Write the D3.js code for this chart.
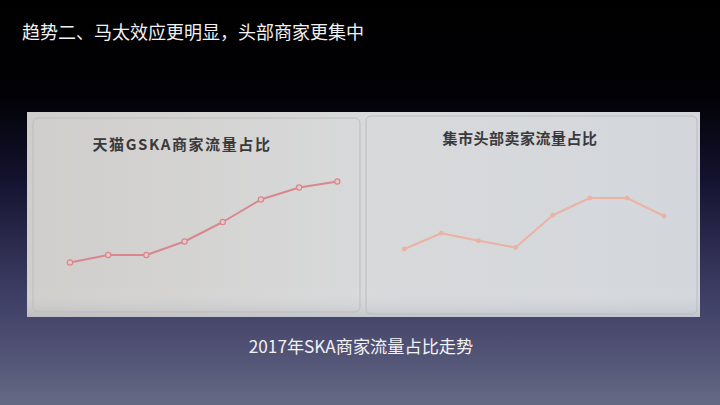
<!DOCTYPE html>
<html><head><meta charset="utf-8">
<script src="https://cdn.jsdelivr.net/npm/d3@7"></script>
<style>html,body{margin:0;padding:0;background:#000;}svg{display:block;}</style>
</head><body>
<script>
const pageTitle = "趋势二、马太效应更明显，头部商家更集中";
const caption = "2017年SKA商家流量占比走势";
const panelTitles = ["天猫GSKA商家流量占比", "集市头部卖家流量占比"];
const categories = ["1月","2月","3月","4月","5月","6月","7月","8月"];
const tmallShare = [2.5, 3.0, 3.0, 3.9, 5.2, 6.7, 7.5, 7.9];
const jishiShare = [3.4, 4.45, 3.95, 3.5, 5.65, 6.8, 6.8, 5.6];

const W = 720, H = 405;
const svg = d3.select("body").append("svg").attr("width", W).attr("height", H);
const defs = svg.append("defs");
const bg = defs.append("linearGradient").attr("id","bg").attr("x1",0).attr("y1",0).attr("x2",0).attr("y2",1);
[[0,"#000000"],[0.24,"#020206"],[0.45,"#141330"],[0.72,"#3d3d64"],[0.85,"#4e4f72"],[1,"#646a84"]]
  .forEach(([o,c])=>bg.append("stop").attr("offset",o).attr("stop-color",c));
svg.append("rect").attr("width",W).attr("height",H).attr("fill","url(#bg)");

const ph = defs.append("linearGradient").attr("id","ph").attr("x1",0).attr("y1",0).attr("x2",1).attr("y2",0);
[[0,"#d0cecb"],[0.5,"#d8d9da"],[1,"#d3d7dd"]].forEach(([o,c])=>ph.append("stop").attr("offset",o).attr("stop-color",c));
const ph2 = defs.append("linearGradient").attr("id","ph2").attr("x1",0).attr("y1",0).attr("x2",0).attr("y2",1);
[[0,"#ffffff",0],[0.85,"#ffffff",0],[1,"#8a8ea0",0.25]].forEach(([o,c,a])=>ph2.append("stop").attr("offset",o).attr("stop-color",c).attr("stop-opacity",a));

svg.append("text").attr("x",22).attr("y",39).attr("fill","#f2f2f2")
  .attr("font-family","'Noto Sans CJK SC'").attr("font-size",18).text(pageTitle);

// photo of the two chart panels
svg.append("rect").attr("x",27).attr("y",112).attr("width",673).attr("height",205).attr("fill","url(#ph)");
svg.append("rect").attr("x",27).attr("y",112).attr("width",673).attr("height",205).attr("fill","url(#ph2)");

const panels = [
  {box:[33,118,327,194], xr:[70,337.3], data:tmallShare, color:"#d9878f", title:panelTitles[0], tx:182, ty:150, fs:15, ls:1.6, mk:true},
  {box:[366,116,331,198], xr:[404.3,664], data:jishiShare, color:"#eab3a3", title:panelTitles[1], tx:520, ty:144, fs:15, ls:0.5, mk:false}
];
const y = d3.scaleLinear().domain([0,10]).range([300,150]);

panels.forEach(p=>{
  const [bx,by,bw,bh] = p.box;
  svg.append("rect").attr("x",bx).attr("y",by).attr("width",bw).attr("height",bh)
    .attr("rx",5).attr("fill","none").attr("stroke","#bdbdbf").attr("stroke-width",1);
  svg.append("text").attr("x",p.tx).attr("y",p.ty).attr("text-anchor","middle")
    .attr("font-family","'Noto Sans CJK SC'").attr("font-weight","bold").attr("font-size",p.fs)
    .attr("letter-spacing",p.ls).attr("fill","#3a3a3c").text(p.title);
  const x = d3.scalePoint().domain(categories).range(p.xr);
  const line = d3.line().x((d,i)=>x(categories[i])).y(d=>y(d));
  svg.append("path").datum(p.data).attr("d",line).attr("fill","none")
    .attr("stroke",p.color).attr("stroke-width",2).attr("stroke-linejoin","round");
  svg.selectAll(null).data(p.data).enter().append("circle")
    .attr("cx",(d,i)=>x(categories[i])).attr("cy",d=>y(d)).attr("r",p.mk?2.6:1.8)
    .attr("fill",p.mk?"#e8c8c8":p.color).attr("stroke",p.color).attr("stroke-width",1.2);
});

svg.append("text").attr("x",361).attr("y",353).attr("text-anchor","middle").attr("fill","#f2f2f2")
  .attr("font-family","'Noto Sans CJK SC'").attr("font-size",17.2).text(caption);
</script>
</body></html>
